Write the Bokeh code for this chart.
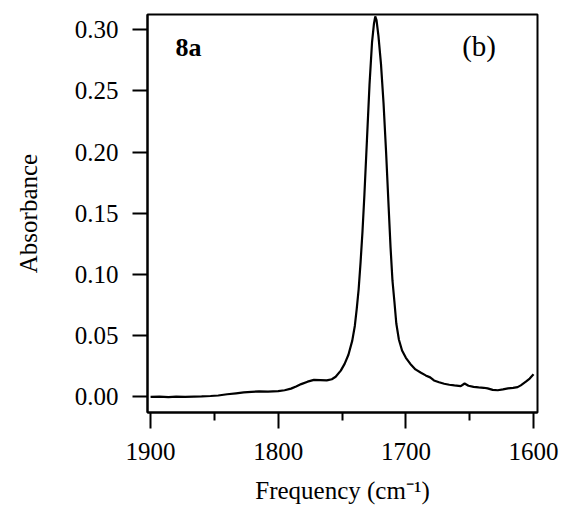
from bokeh.plotting import figure
from bokeh.models import Range1d, FixedTicker, NumeralTickFormatter, Label
from bokeh.embed import file_html
from bokeh.resources import INLINE

freq = [1900, 1893, 1886, 1880, 1873, 1866, 1860, 1853, 1847, 1840, 1833, 1827,
        1821, 1815, 1808, 1800, 1795, 1790, 1786, 1782, 1777, 1772, 1767, 1762,
        1758, 1755, 1751, 1748, 1745, 1742, 1740, 1738.5, 1737, 1735.5, 1734,
        1732.5, 1730.5, 1728.5, 1726.5, 1725, 1724, 1723, 1721.5, 1719.5, 1717.5,
        1715.5, 1713.5, 1712, 1710.5, 1709, 1707.5, 1705.5, 1703, 1700, 1696.5,
        1692.5, 1688.5, 1684.5, 1681, 1678, 1674, 1670, 1666, 1662, 1657, 1654,
        1651, 1647, 1643, 1639, 1636, 1632, 1628, 1624, 1620, 1616, 1612.5, 1610,
        1606, 1603, 1600]
absorb = [0.000, 0.0002, -0.0001, 0.0002, 0.0001, 0.0003, 0.0004, 0.0008, 0.0012,
          0.0022, 0.0030, 0.0037, 0.0042, 0.0046, 0.0043, 0.0047, 0.0055, 0.0068,
          0.0085, 0.0105, 0.0125, 0.0140, 0.0138, 0.0135, 0.0145, 0.0165, 0.0215,
          0.0270, 0.0345, 0.0460, 0.0580, 0.0720, 0.0880, 0.1100, 0.1350, 0.1650,
          0.2100, 0.2550, 0.2900, 0.3050, 0.3110, 0.3080, 0.2950, 0.2720, 0.2400,
          0.2000, 0.1550, 0.1220, 0.0950, 0.0780, 0.0600, 0.0470, 0.0380, 0.0320,
          0.0270, 0.0225, 0.0200, 0.0176, 0.0160, 0.0135, 0.0120, 0.0108, 0.0100,
          0.0094, 0.0088, 0.0110, 0.0092, 0.0082, 0.0078, 0.0075, 0.0070, 0.0058,
          0.0055, 0.0062, 0.0070, 0.0074, 0.0080, 0.0095, 0.0125, 0.0150, 0.0185]

x_ticks = [1900, 1800, 1700, 1600]
x_minor_ticks = [1850, 1750, 1650]
y_ticks = [0.00, 0.05, 0.10, 0.15, 0.20, 0.25, 0.30]

FONT = "Liberation Serif"

p = figure(width=562, height=508, output_backend="svg", toolbar_location=None,
           x_range=Range1d(1902.4, 1596.9), y_range=Range1d(-0.0127, 0.3125),
           min_border_left=147, min_border_right=25, min_border_top=14,
           min_border_bottom=96)

p.line(freq, absorb, line_color="black", line_width=2.2)

p.xgrid.visible = False
p.ygrid.visible = False
p.outline_line_color = "black"
p.outline_line_width = 2
p.outline_line_alpha = 1.0
p.background_fill_color = "white"
p.border_fill_color = "white"

xa = p.xaxis[0]
xa.ticker = FixedTicker(ticks=x_ticks, minor_ticks=x_minor_ticks)
xa.axis_label = "Frequency (cm\u207b\u00b9)"
xa.major_tick_out = 16
xa.major_tick_in = 0
xa.minor_tick_out = 8
xa.minor_tick_in = 0
xa.major_label_standoff = 14
xa.axis_label_standoff = 14

ya = p.yaxis[0]
ya.ticker = FixedTicker(ticks=y_ticks)
ya.formatter = NumeralTickFormatter(format="0.00")
ya.axis_label = "Absorbance"
ya.major_tick_out = 15
ya.major_tick_in = 0
ya.minor_tick_out = 0
ya.minor_tick_in = 0
ya.major_label_standoff = 14
ya.axis_label_standoff = 30

for ax in (xa, ya):
    ax.axis_line_width = 2
    ax.axis_line_color = "black"
    ax.major_tick_line_width = 2
    ax.minor_tick_line_width = 2
    ax.major_tick_line_color = "black"
    ax.minor_tick_line_color = "black"
    ax.major_label_text_font = FONT
    ax.major_label_text_font_size = "25px"
    ax.major_label_text_color = "black"
    ax.axis_label_text_font = FONT
    ax.axis_label_text_font_size = "25px"
    ax.axis_label_text_font_style = "normal"
    ax.axis_label_text_color = "black"

p.add_layout(Label(x=1880.4, y=0.2857, text="8a", text_font=FONT,
                   text_font_size="26px", text_font_style="bold",
                   text_color="black", text_baseline="alphabetic"))
p.add_layout(Label(x=1655.9, y=0.2868, text="(b)", text_font=FONT,
                   text_font_size="29px", text_color="black",
                   text_baseline="alphabetic"))

open("out.html", "w").write(file_html(p, INLINE))
